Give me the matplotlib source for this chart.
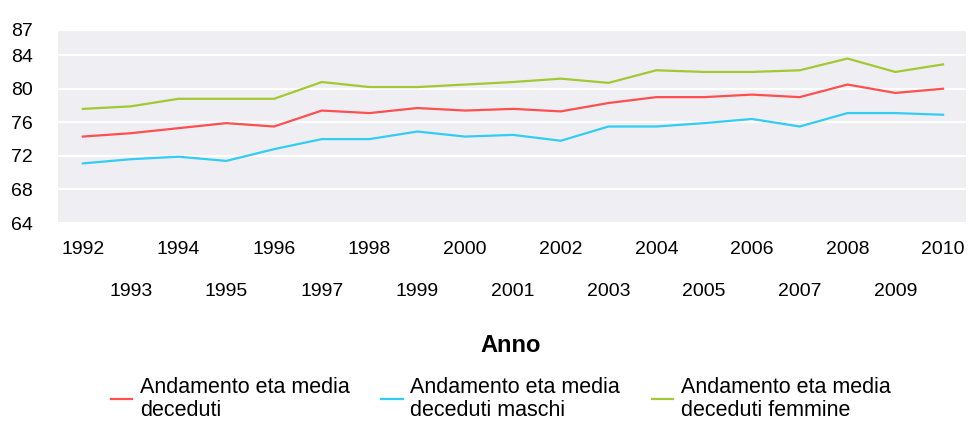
import matplotlib
matplotlib.use('Agg')
import matplotlib.pyplot as plt

# years on the x axis
anni = list(range(1992, 2011))

# eta media dei deceduti
eta_media = [74.3, 74.7, 75.3, 75.9, 75.5, 77.4, 77.1, 77.7, 77.4, 77.6,
             77.3, 78.3, 79.0, 79.0, 79.3, 79.0, 80.5, 79.5, 80.0]
eta_maschi = [71.1, 71.6, 71.9, 71.4, 72.8, 74.0, 74.0, 74.9, 74.3, 74.5,
              73.8, 75.5, 75.5, 75.9, 76.4, 75.5, 77.1, 77.1, 76.9]
eta_femmine = [77.6, 77.9, 78.8, 78.8, 78.8, 80.8, 80.2, 80.2, 80.5, 80.8,
               81.2, 80.7, 82.2, 82.0, 82.0, 82.2, 83.6, 82.0, 82.9]

etichette = ["Andamento eta media\ndeceduti",
             "Andamento eta media\ndeceduti maschi",
             "Andamento eta media\ndeceduti femmine"]
colori = ['#ff4f4f', '#33ccf5', '#a2c832']
y_ticks = [64, 68, 72, 76, 80, 84, 87]

plt.rcParams['font.family'] = ['Liberation Sans', 'DejaVu Sans']

W, H = 968, 422
fig = plt.figure(figsize=(W / 100, H / 100), dpi=100)
ax = fig.add_axes([58 / W, 1 - 223 / H, (966 - 58) / W, (223 - 30) / H])
ax.set_facecolor('#efeff3')

for serie, lab, col in zip([eta_media, eta_maschi, eta_femmine], etichette, colori):
    ax.plot(anni, serie, color=col, lw=1.6, label=lab)

ax.set_xlim(1991.48, 2010.48)
ax.set_ylim(64, 87)

# horizontal white grid
ax.set_yticks(y_ticks)
ax.grid(axis='y', color='white', lw=1.6)
ax.set_axisbelow(True)
for s in ax.spines.values():
    s.set_visible(False)

# even years on first row, odd years on second row
pari = [a for a in anni if a % 2 == 0]
dispari = [a for a in anni if a % 2 == 1]
ax.set_xticks(pari, labels=[str(a) for a in pari])
ax.set_xticks(dispari, labels=[str(a) for a in dispari], minor=True)
ax.tick_params(axis='x', which='major', length=0, pad=13, labelsize=14)
ax.tick_params(axis='x', which='minor', length=0, pad=43, labelsize=14)
ax.tick_params(axis='y', length=0, pad=34, labelsize=14)
for t in ax.get_yticklabels():
    t.set_horizontalalignment('left')

fig.text(511 / W, 1 - 345 / H, 'Anno', fontsize=17, fontweight='bold',
         ha='center', va='center')

leg = fig.legend(loc='upper left', bbox_to_anchor=(100 / W, 1 - 366 / H),
                 ncol=3, frameon=False, fontsize=15.5, borderpad=0,
                 handlelength=1.0, handletextpad=0.35, columnspacing=1.47)
for t in leg.get_texts():
    t.set_linespacing(1.12)

fig.savefig('out.png', dpi=100)
